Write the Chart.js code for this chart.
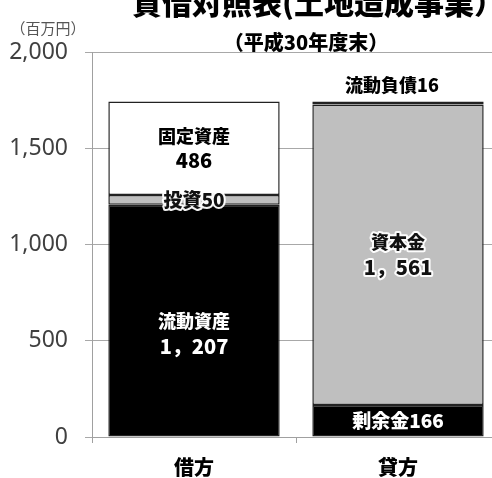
<!DOCTYPE html>
<html>
<head>
<meta charset="utf-8">
<script src="https://cdn.jsdelivr.net/npm/chart.js@4"></script>
<style>
html,body{margin:0;padding:0;background:#fff;overflow:hidden;width:492px;height:478px;}
canvas{position:absolute;left:0;top:0;}
</style>
</head>
<body>
<canvas id="c" width="510" height="478"></canvas>
<script>
// ---- data ----
const categories = ['借方', '貸方'];
const bottomValues = [1207, 166];   // 流動資産 / 剰余金
const middleValues = [50, 1561];    // 投資 / 資本金
const topValues = [486, 16];        // 固定資産 / 流動負債
const bottomNames = ['流動資産', '剰余金'];
const middleNames = ['投資', '資本金'];
const topNames = ['固定資産', '流動負債'];
const yTicks = [0, 500, 1000, 1500, 2000];
const titleText = '貸借対照表(土地造成事業）';
const subtitleText = '（平成30年度末）';
const unitText = '（百万円）';

function fmt(v) {
  const s = String(v);
  return v >= 1000 ? s.slice(0, s.length - 3) + '，' + s.slice(-3) : s;
}

const JP = '"Noto Sans CJK JP", "Noto Sans CJK SC", sans-serif';

// label styles: [datasetIndex][categoryIndex]
const labelStyles = [
  [{mode: 'two', color: '#fff', shift: 13}, {mode: 'one', color: '#fff'}],
  [{mode: 'one', color: '#111', halo: true}, {mode: 'two', color: '#111', halo: true}],
  [{mode: 'two', color: '#000'}, {mode: 'above', color: '#000'}]
];
const namesByDataset = [bottomNames, middleNames, topNames];
const valuesByDataset = [bottomValues, middleValues, topValues];

const labelPlugin = {
  id: 'segLabels',
  afterDatasetsDraw(chart) {
    const ctx = chart.ctx;
    ctx.save();
    ctx.textAlign = 'center';
    ctx.textBaseline = 'middle';
    chart.data.datasets.forEach((ds, di) => {
      const meta = chart.getDatasetMeta(di);
      meta.data.forEach((bar, ci) => {
        const st = labelStyles[di][ci];
        const name = namesByDataset[di][ci];
        const val = valuesByDataset[di][ci];
        const cx = bar.x;
        const top = Math.min(bar.y, bar.base), bot = Math.max(bar.y, bar.base);
        const cy = (top + bot) / 2 + (st.shift || 0);
        const draw = (t, x, y, font) => {
          ctx.font = font;
          if (st.halo) {
            ctx.lineWidth = 4;
            ctx.strokeStyle = 'rgba(255,255,255,0.95)';
            ctx.lineJoin = 'round';
            ctx.strokeText(t, x, y);
          }
          ctx.fillStyle = st.color;
          ctx.fillText(t, x, y);
        };
        if (st.mode === 'two') {
          draw(name, cx, cy - 12.5, '900 18px ' + JP);
          draw(fmt(val), cx, cy + 12.5, '900 20px ' + JP);
        } else if (st.mode === 'one') {
          draw(name + fmt(val), cx, cy, '900 19px ' + JP);
        } else {
          draw(name + fmt(val), cx - 6, top - 16, '900 18px ' + JP);
        }
      });
    });
    // titles
    ctx.fillStyle = '#000';
    ctx.font = '900 30px ' + JP;
    ctx.fillText(titleText, 318, 3);
    ctx.font = '900 20px ' + JP;
    ctx.fillText(subtitleText, 306, 42);
    ctx.fillStyle = '#555';
    ctx.font = '15px ' + JP;
    ctx.fillText(unitText, 48, 28);
    ctx.restore();
  }
};

const common = {barPercentage: 0.84, categoryPercentage: 1, borderColor: '#222', borderWidth: 1.5, borderSkipped: false};

new Chart(document.getElementById('c'), {
  type: 'bar',
  data: {
    labels: categories,
    datasets: [
      Object.assign({label: '下段', data: bottomValues, backgroundColor: '#000'}, common),
      Object.assign({label: '中段', data: middleValues, backgroundColor: '#bfbfbf'}, common),
      Object.assign({label: '上段', data: topValues, backgroundColor: '#fff'}, common)
    ]
  },
  options: {
    responsive: false,
    devicePixelRatio: 1,
    animation: false,
    layout: {padding: {top: 52, right: 10, left: 0, bottom: 0}},
    plugins: {legend: {display: false}, tooltip: {enabled: false}, title: {display: false}},
    scales: {
      x: {
        stacked: true,
        offset: true,
        grid: {display: true, drawOnChartArea: false, drawTicks: true, tickLength: 6, color: '#a0a0a0', offset: true},
        border: {color: '#a0a0a0'},
        ticks: {color: '#000', font: {family: JP, size: 20, weight: '900'}, padding: 12},
        afterFit: s => { s.height = 41; }
      },
      y: {
        stacked: true,
        min: yTicks[0],
        max: yTicks[yTicks.length - 1],
        afterBuildTicks: s => { s.ticks = yTicks.map(v => ({value: v})); },
        ticks: {
          color: '#404040',
          font: {family: '"Noto Sans", sans-serif', size: 23},
          padding: 17,
          callback: v => v.toLocaleString('en-US')
        },
        grid: {color: '#a8a8a8', tickLength: 7},
        border: {color: '#a0a0a0'},
        afterFit: s => { s.width = 92; }
      }
    }
  },
  plugins: [labelPlugin]
});
</script>
</body>
</html>
